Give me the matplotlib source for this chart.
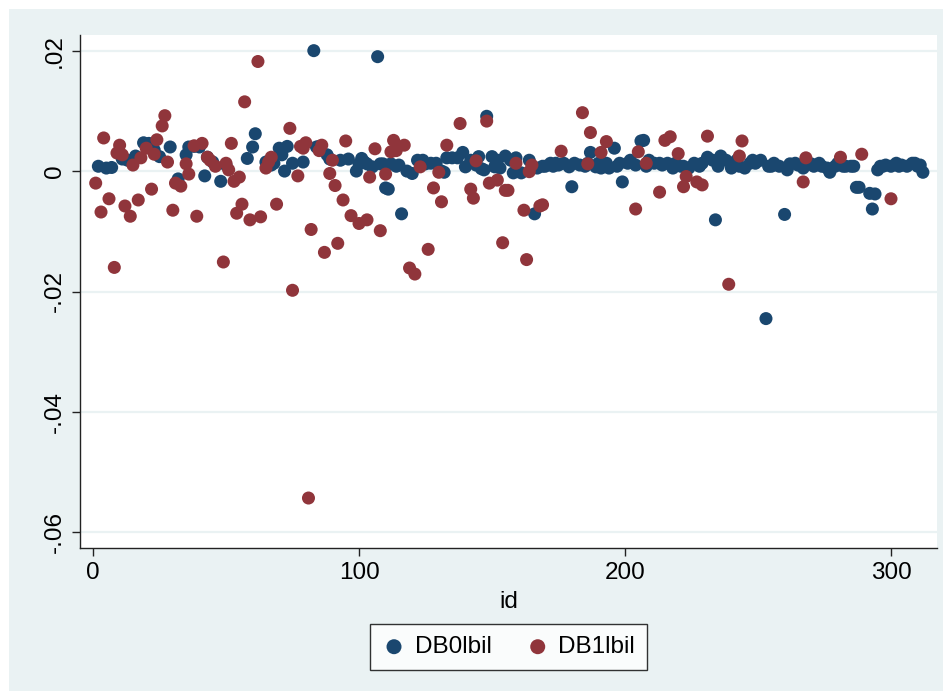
import matplotlib
matplotlib.use("Agg")
import matplotlib.pyplot as plt
from matplotlib.patches import Rectangle

plt.rcParams['font.family'] = ['Liberation Sans', 'DejaVu Sans']

# DB0lbil observations (id, value)
db0_id = [2, 5, 7, 11, 13, 16, 19, 21, 23, 25, 29, 32, 35, 36, 38, 40, 42, 43, 45, 48,
          50, 58, 60, 61, 65, 67, 68, 70, 71, 72, 73, 75, 79, 83, 84, 85, 88, 89, 93, 96,
          99, 100, 101, 102, 103, 105, 107, 108, 109, 110, 111, 112, 114, 115, 116, 118, 120, 122, 123, 124,
          125, 127, 129, 131, 132, 133, 135, 137, 139, 140, 142, 144, 145, 146, 147, 148, 150, 151, 152, 153,
          155, 157, 158, 159, 161, 164, 166, 167, 169, 170, 172, 173, 174, 175, 177, 179, 180, 181, 183, 185,
          186, 187, 189, 190, 191, 193, 194, 196, 197, 198, 199, 201, 202, 204, 206, 207, 208, 209, 211, 213,
          214, 216, 218, 219, 221, 222, 224, 226, 228, 229, 231, 233, 234, 235, 236, 238, 240, 242, 243, 245,
          247, 248, 249, 251, 253, 254, 255, 256, 258, 260, 261, 262, 264, 265, 267, 268, 270, 271, 273, 274,
          276, 277, 279, 280, 282, 283, 285, 286, 287, 288, 292, 293, 294, 295, 296, 297, 298, 300, 302, 303,
          304, 306, 308, 309, 310, 311, 312]
db0_val = [.0008, .0005, .0006, .0020, .0018, .0025, .0047, .0046, .0035, .0024, .0040, -.0013, .0027, .0040, .0041, .0040, -.0008, .0023, .0015, -.0017,
           .0010, .0021, .0040, .0062, .0015, .0010, .0013, .0038, .0027, .0000, .0041, .0013, .0015, .0200, .0040, .0041, .0027, .0020, .0018, .0020,
           .0000, .0012, .0021, .0015, .0012, .0007, .0190, .0012, .0012, -.0028, -.0030, .0012, .0008, .0010, -.0071, .0000, -.0004, .0018, .0015, .0018,
           .0012, .0013, .0013, .0000, -.0002, .0022, .0022, .0022, .0031, .0007, .0018, .0010, .0024, .0004, .0002, .0091, .0024, .0007, .0018, .0005,
           .0025, .0018, -.0003, .0022, -.0003, .0018, -.0071, .0005, .0008, .0008, .0013, .0008, .0013, .0010, .0013, .0007, -.0026, .0013, .0010, .0008,
           .0013, .0031, .0007, .0013, .0005, .0013, .0005, .0038, .0008, .0013, -.0018, .0013, .0018, .0010, .0050, .0051, .0008, .0018, .0013, .0013,
           .0010, .0013, .0005, .0013, .0008, .0008, .0005, .0013, .0008, .0013, .0023, .0018, -.0081, .0008, .0025, .0018, .0005, .0018, .0008, .0005,
           .0013, .0018, .0013, .0018, -.0245, .0008, .0008, .0013, .0008, -.0072, .0002, .0012, .0013, .0010, .0005, .0013, .0012, .0008, .0013, .0008,
           .0005, -.0002, .0008, .0013, .0008, .0008, .0008, .0008, -.0027, -.0027, -.0037, -.0063, -.0038, .0002, .0008, .0008, .0010, .0008, .0013, .0008,
           .0010, .0008, .0013, .0013, .0008, .0010, -.0002]

# DB1lbil observations (id, value)
db1_id = [1, 3, 4, 6, 8, 9, 10, 11, 12, 14, 15, 17, 18, 20, 22, 23, 24, 26, 27, 28,
          30, 31, 33, 35, 36, 38, 39, 41, 43, 44, 46, 49, 50, 51, 52, 53, 54, 55, 56, 57,
          59, 62, 63, 65, 66, 67, 69, 74, 75, 77, 78, 79, 80, 81, 82, 85, 86, 87, 89, 90,
          91, 92, 94, 95, 97, 100, 103, 104, 106, 108, 110, 112, 113, 114, 117, 119, 121, 123, 126, 128,
          130, 131, 133, 138, 142, 143, 144, 148, 149, 152, 154, 155, 156, 159, 162, 163, 164, 165, 168, 169,
          176, 184, 186, 187, 191, 193, 204, 205, 208, 213, 215, 217, 220, 222, 223, 227, 229, 231, 239, 243,
          244, 267, 268, 281, 289, 300]
db1_val = [-.0020, -.0068, .0055, -.0046, -.0160, .0030, .0043, .0027, -.0058, -.0075, .0010, -.0048, .0022, .0038, -.0030, .0028, .0052, .0075, .0092, .0015,
           -.0065, -.0020, -.0025, .0012, -.0005, .0042, -.0075, .0046, .0023, .0018, .0008, -.0151, .0013, .0002, .0046, -.0017, -.0070, -.0010, -.0055, .0115,
           -.0081, .0182, -.0076, .0005, .0015, .0023, -.0055, .0071, -.0198, -.0008, .0041, .0038, .0047, -.0543, -.0097, .0034, .0043, -.0135, -.0004, .0018,
           -.0024, -.0120, -.0048, .0050, -.0074, -.0087, -.0081, -.0010, .0037, -.0099, -.0005, .0032, .0051, .0034, .0043, -.0161, -.0171, .0007, -.0130, -.0028,
           -.0002, -.0051, .0043, .0079, -.0030, -.0045, .0017, .0083, -.0020, -.0015, -.0119, -.0032, -.0032, .0013, -.0065, -.0147, -.0001, .0010, -.0058, -.0056,
           .0033, .0097, .0012, .0064, .0031, .0049, -.0063, .0032, .0013, -.0035, .0051, .0057, .0029, -.0026, -.0009, -.0018, -.0023, .0058, -.0188, .0025,
           .0050, -.0018, .0022, .0023, .0028, -.0046]

y_ticks = [.02, 0, -.02, -.04, -.06]
y_tick_labels = ['.02', '0', '-.02', '-.04', '-.06']
x_ticks = [0, 100, 200, 300]
series_names = ['DB0lbil', 'DB1lbil']

BLUE = '#1a476f'
RED = '#90353b'
BG = '#eaf2f3'
FS = 17.5

W, H = 953, 698
fig = plt.figure(figsize=(W / 100, H / 100), dpi=100, facecolor='white')

# graph region background, kept behind the plot region
fig.patches.append(Rectangle((9 / W, 7 / H), (943 - 9) / W, (689 - 7) / H,
                             transform=fig.transFigure, facecolor=BG,
                             edgecolor='none', zorder=-10))

ax = fig.add_axes([80 / W, (H - 548) / H, (937 - 80) / W, (548 - 35) / H])
ax.set_zorder(1)
ax.set_facecolor('white')

ax.scatter(db0_id, db0_val, s=88, color=BLUE, edgecolors='none', zorder=3, label=series_names[0])
ax.scatter(db1_id, db1_val, s=88, color=RED, edgecolors='none', zorder=3, label=series_names[1])

ax.set_xlim(-4.9, 317.3)
ax.set_ylim(-0.0626, 0.0226)

ax.set_yticks(y_ticks)
ax.set_yticklabels(y_tick_labels, rotation=90, va='center', fontsize=FS)
ax.set_xticks(x_ticks)
ax.set_xticklabels([str(t) for t in x_ticks], fontsize=FS)
ax.tick_params(axis='both', direction='out', length=6, width=1, color='#222222', pad=4)

ax.grid(axis='y', color=BG, linewidth=1.6, zorder=1)
ax.set_axisbelow(True)

for side in ['top', 'right']:
    ax.spines[side].set_visible(False)
for side in ['left', 'bottom']:
    ax.spines[side].set_color('#222222')
    ax.spines[side].set_linewidth(1)

ax.set_xlabel('id', fontsize=FS, labelpad=5)

leg = ax.legend(loc='upper center', bbox_to_anchor=(0.5, -0.148), ncol=2,
                frameon=True, fancybox=False, fontsize=FS, markerscale=1.15,
                handletextpad=0.35, columnspacing=1.4, borderpad=0.5,
                handlelength=1.0, scatterpoints=1, borderaxespad=0)
leg.get_frame().set_edgecolor('black')
leg.get_frame().set_linewidth(1)
leg.get_frame().set_facecolor('white')

fig.savefig('out.png', dpi=100, facecolor=fig.get_facecolor())
